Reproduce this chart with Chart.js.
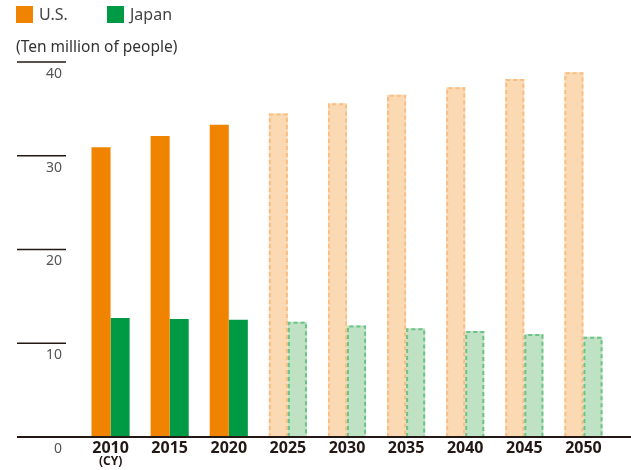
<!DOCTYPE html>
<html>
<head>
<meta charset="utf-8">
<script src="https://cdn.jsdelivr.net/npm/chart.js@4"></script>
<style>
  html, body { margin: 0; padding: 0; background: #fff; }
  #wrap { width: 631px; height: 470px; position: relative; }
</style>
</head>
<body>
<div id="wrap"><canvas id="myChart" width="631" height="470"></canvas></div>
<script>
// years on the axis, the last six are projections
const years = ['2010', '2015', '2020', '2025', '2030', '2035', '2040', '2045', '2050'];
const usValues = [30.9, 32.1, 33.3, 34.5, 35.6, 36.5, 37.3, 38.2, 38.9];
const japanValues = [12.7, 12.6, 12.5, 12.3, 11.9, 11.6, 11.3, 11.0, 10.7];
const yTicks = [0, 10, 20, 30, 40];
const firstProjected = 3;

const FONT = '"Noto Sans", "Open Sans", sans-serif';

const usFill = years.map((y, i) => i < firstProjected ? '#F08300' : '#FBD9B3');
const jpFill = years.map((y, i) => i < firstProjected ? '#009A44' : '#BFE2C5');
const usDash = '#F8BF84';
const jpDash = '#6DC287';

// dashed outline for projected bars (bars have no borderDash of their own)
const dashedBars = {
  id: 'dashedBars',
  afterDatasetsDraw(chart) {
    const ctx = chart.ctx;
    const colors = [usDash, jpDash];
    chart.data.datasets.forEach((ds, di) => {
      const meta = chart.getDatasetMeta(di);
      meta.data.forEach((bar, i) => {
        if (i < firstProjected) return;
        const p = bar.getProps(['x', 'y', 'base', 'width'], true);
        const left = p.x - p.width / 2 + 1;
        ctx.save();
        ctx.strokeStyle = colors[di];
        ctx.lineWidth = 2;
        ctx.setLineDash([4, 3]);
        ctx.beginPath();
        ctx.moveTo(left, p.base);
        ctx.lineTo(left, p.y + 1);
        ctx.lineTo(left + p.width - 2, p.y + 1);
        ctx.lineTo(left + p.width - 2, p.base);
        ctx.stroke();
        ctx.restore();
      });
    });
  }
};

// y tick marks, baseline, legend, unit text
const decorations = {
  id: 'decorations',
  afterDraw(chart) {
    const ctx = chart.ctx;
    const y = chart.scales.y;
    const x = chart.scales.x;
    ctx.save();
    yTicks.forEach(v => {
      const py = y.getPixelForValue(v);
      if (v > 0) {
        ctx.strokeStyle = '#231815';
        ctx.lineWidth = 1.3;
        ctx.beginPath();
        ctx.moveTo(17, py);
        ctx.lineTo(66, py);
        ctx.stroke();
      }
      ctx.fillStyle = '#555';
      ctx.font = '14px ' + FONT;
      ctx.textAlign = 'right';
      ctx.textBaseline = 'middle';
      ctx.fillText(String(v), 62, py + 12);
    });
    const p0 = y.getPixelForValue(0);
    ctx.strokeStyle = '#231815';
    ctx.lineWidth = 2;
    ctx.beginPath();
    ctx.moveTo(17, p0);
    ctx.lineTo(631, p0);
    ctx.stroke();

    // (CY) under the first year
    ctx.fillStyle = '#231815';
    ctx.font = 'bold 12px ' + FONT;
    ctx.textAlign = 'center';
    ctx.textBaseline = 'middle';
    ctx.fillText('(CY)', x.getPixelForValue(0), 462);

    // legend
    ctx.fillStyle = '#F08300';
    ctx.fillRect(16, 6, 17, 17);
    ctx.fillStyle = '#009A44';
    ctx.fillRect(107, 6, 17, 17);
    ctx.fillStyle = '#444';
    ctx.font = '16px ' + FONT;
    ctx.textAlign = 'left';
    ctx.fillText('U.S.', 39, 15);
    ctx.fillText('Japan', 130, 15);

    ctx.font = '15.5px ' + FONT;
    ctx.fillStyle = '#333';
    ctx.fillText('(Ten million of people)', 16, 48);
    ctx.restore();
  }
};

const ctx = document.getElementById('myChart').getContext('2d');
new Chart(ctx, {
  type: 'bar',
  data: {
    labels: years,
    datasets: [
      { label: 'U.S.', data: usValues, backgroundColor: usFill, borderWidth: 0 },
      { label: 'Japan', data: japanValues, backgroundColor: jpFill, borderWidth: 0 }
    ]
  },
  options: {
    responsive: false,
    animation: false,
    layout: { padding: { left: 81, right: 18, top: 62, bottom: 0 } },
    datasets: { bar: { categoryPercentage: 0.645, barPercentage: 1 } },
    plugins: { legend: { display: false }, tooltip: { enabled: false } },
    scales: {
      x: {
        grid: { display: false, drawTicks: false, tickLength: 0 },
        border: { display: false },
        ticks: {
          color: '#231815',
          font: { family: FONT, size: 16, weight: 'bold' },
          padding: 2,
          maxRotation: 0
        },
        afterFit(scale) { scale.height = 33; }
      },
      y: {
        display: false,
        min: 0,
        max: 40
      }
    }
  },
  plugins: [dashedBars, decorations]
});
</script>
</body>
</html>
